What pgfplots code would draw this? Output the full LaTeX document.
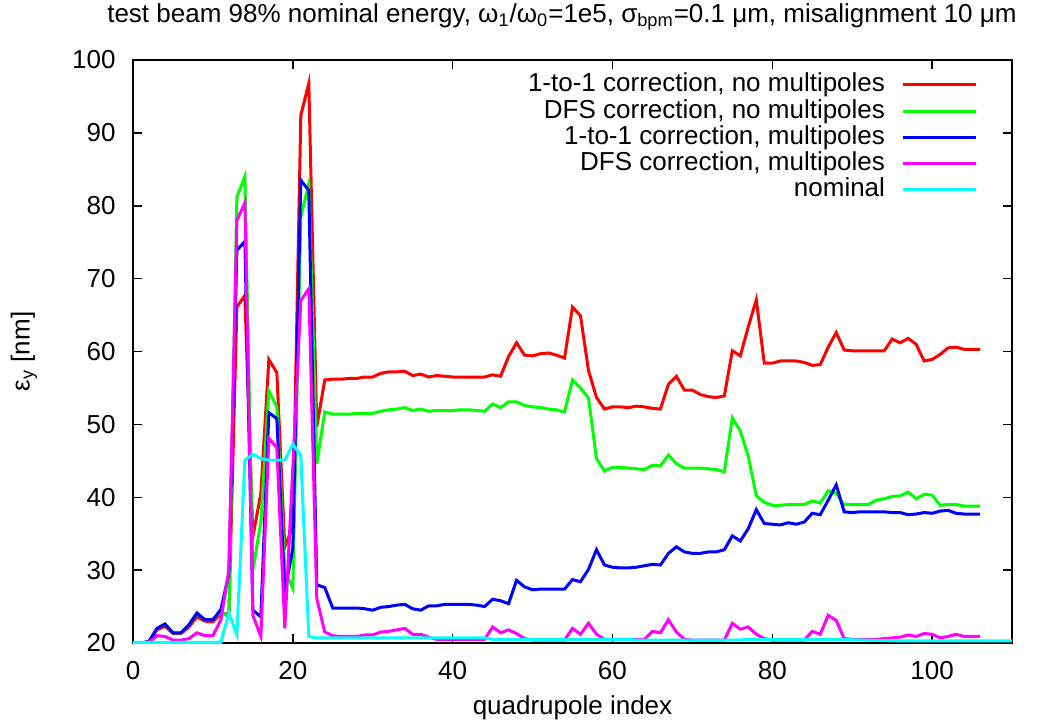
\documentclass[border=0pt]{standalone}
\usepackage{pgfplots}
\usepackage{pgfplotstable}
\pgfplotsset{compat=1.18}
\usepackage{fontspec}
\setmainfont{Liberation Sans}
\definecolor{gpred}{RGB}{255,0,0}
\definecolor{gpgreen}{RGB}{0,255,0}
\definecolor{gpblue}{RGB}{0,0,255}
\definecolor{gpmag}{RGB}{255,0,255}
\definecolor{gpcyan}{RGB}{0,255,255}

\pgfplotstableread{
i r g b m
0 20.0 20.0 20.0 20.0
1 20.0 20.0 20.0 20.0
2 20.2 20.2 20.2 20.1
3 21.8 22.0 22.0 21.0
4 22.3 22.6 22.6 20.9
5 21.3 21.4 21.4 20.4
6 21.3 21.4 21.4 20.4
7 22.2 22.5 22.5 20.6
8 23.6 24.1 24.1 21.4
9 23.0 23.2 23.2 21.0
10 22.9 23.2 23.2 21.0
11 24.0 24.3 24.6 23.2
12 24.0 23.5 29.5 30.0
13 66.1 81.2 73.9 78.0
14 67.7 84.0 75.1 80.4
15 34.6 30.0 24.5 23.8
16 40.5 36.6 23.6 20.9
17 58.9 54.6 51.6 48.1
18 57.1 52.4 50.8 46.8
19 33.2 30.0 27.0 22.0
20 36.0 27.5 33.0 44.0
21 92.4 78.5 83.5 67.0
22 96.8 83.0 82.1 68.6
23 49.7 44.6 28.0 26.1
24 56.1 51.7 27.6 21.5
25 56.2 51.4 24.8 21.0
26 56.2 51.4 24.8 20.9
27 56.3 51.4 24.8 20.9
28 56.3 51.5 24.8 20.9
29 56.5 51.5 24.7 21.1
30 56.5 51.5 24.5 21.1
31 57.0 51.8 24.9 21.5
32 57.2 52.0 25.0 21.6
33 57.2 52.1 25.2 21.8
34 57.3 52.3 25.3 22.0
35 56.7 51.9 24.7 21.2
36 56.9 52.1 24.5 21.2
37 56.5 51.8 25.1 20.8
38 56.7 51.9 25.1 20.5
39 56.6 51.9 25.3 20.5
40 56.5 51.9 25.3 20.5
41 56.5 52.0 25.3 20.5
42 56.5 52.0 25.3 20.5
43 56.5 51.9 25.2 20.5
44 56.5 51.8 25.0 20.5
45 56.8 52.8 26.0 22.2
46 56.6 52.3 25.8 21.4
47 59.3 53.1 25.4 21.8
48 61.2 53.1 28.6 21.3
49 59.5 52.6 27.7 20.6
50 59.4 52.4 27.3 20.4
51 59.7 52.3 27.4 20.4
52 59.8 52.1 27.4 20.4
53 59.5 52.0 27.4 20.4
54 59.1 51.7 27.4 20.4
55 66.1 56.1 28.7 22.0
56 64.9 55.0 28.4 21.2
57 57.4 53.6 30.1 22.7
58 53.7 45.3 32.8 21.2
59 52.1 43.6 30.7 20.5
60 52.4 44.1 30.4 20.5
61 52.4 44.1 30.3 20.5
62 52.3 44.0 30.3 20.5
63 52.5 43.9 30.4 20.5
64 52.4 43.8 30.6 20.5
65 52.2 44.4 30.8 21.6
66 52.1 44.3 30.7 21.4
67 55.5 45.8 32.3 23.2
68 56.6 44.6 33.2 21.5
69 54.7 44.0 32.5 20.5
70 54.7 44.0 32.3 20.4
71 54.1 44.0 32.3 20.4
72 53.8 43.9 32.5 20.4
73 53.7 43.8 32.5 20.4
74 53.9 43.5 32.8 20.4
75 60.1 50.9 34.7 22.7
76 59.4 49.1 34.0 21.9
77 63.4 45.6 35.7 22.2
78 67.1 40.2 38.3 21.2
79 58.4 39.3 36.4 20.6
80 58.4 38.9 36.3 20.4
81 58.7 38.9 36.2 20.4
82 58.7 39.0 36.5 20.4
83 58.7 39.0 36.3 20.4
84 58.5 39.0 36.6 20.4
85 58.1 39.5 37.8 21.6
86 58.2 39.2 37.6 21.2
87 60.6 40.9 39.6 23.8
88 62.6 40.5 41.7 23.1
89 60.2 39.0 38.0 20.6
90 60.1 39.0 37.9 20.5
91 60.1 39.0 38.0 20.5
92 60.1 39.0 38.0 20.5
93 60.1 39.6 38.0 20.5
94 60.1 39.8 38.0 20.6
95 61.7 40.1 37.9 20.7
96 61.2 40.2 37.9 20.8
97 61.8 40.7 37.6 21.1
98 61.0 39.8 37.7 20.9
99 58.7 40.4 37.9 21.3
100 58.9 40.3 37.8 21.2
101 59.6 38.9 38.1 20.7
102 60.5 39.0 38.2 20.9
103 60.6 39.0 37.8 21.2
104 60.3 38.8 37.7 20.9
105 60.3 38.8 37.7 20.9
106 60.3 38.8 37.7 20.9
}\maindata

\pgfplotstableread{
i c
0 20.1
11 20.1
12 24.1
13 21.1
14 45.1
15 45.9
16 45.3
17 45.1
18 45.1
19 45.1
20 47.3
21 45.7
22 20.9
23 20.7
44 20.7
45 20.5
62 20.5
63 20.4
75 20.4
78 20.5
88 20.5
95 20.3
110 20.3
}\cyandata

\begin{document}
\begin{tikzpicture}[font=\fontsize{13}{15.6}\selectfont]
\useasboundingbox (-66.5pt,-40pt) rectangle (453pt,321.5pt);
\begin{axis}[
  at={(0pt,0pt)}, anchor=south west,
  scale only axis, width=439.5pt, height=291.5pt,
  xmin=0, xmax=110, ymin=20, ymax=100,
  xtick={0,20,...,100}, ytick={20,30,...,100},
  minor tick num=0,
  tick align=inside, major tick length=4.5pt,
  every tick/.style={black, line width=0.75pt},
  axis line style={line width=0.75pt},
  /pgf/number format/assume math mode=true,
  ticklabel style={font=\fontsize{13}{15.6}\selectfont},
  yticklabel style={anchor=east, inner sep=0pt, xshift=-8.5pt},
  xticklabel style={anchor=north, inner sep=0pt, yshift=-9pt},
  xlabel={quadrupole index},
  ylabel={ε\textsubscript{y} [nm]},
  xlabel style={at={(axis description cs:0.5,0)}, anchor=center, yshift=-32.5pt},
  ylabel style={at={(axis description cs:-0.124,0.5)}, anchor=center},
  title={test beam 98\% nominal energy, ω\textsubscript{1}/ω\textsubscript{0}=1e5, σ\textsubscript{bpm}=0.1 μm, misalignment 10 μm},
  title style={at={(axis description cs:0.488,1)}, anchor=base, yshift=13pt},
  legend plot pos=right,
  legend cell align=right,
  legend image code/.code={\draw[#1] (0pt,0pt) -- (36.5pt,0pt);},
  legend style={draw=none, fill=none, inner sep=0pt, outer sep=0pt,
    at={(axis description cs:0.9613,0.9782)}, anchor=north east,
    column sep=8.5pt, row sep=1.15pt,
    nodes={inner sep=0pt, text height=9.5pt, text depth=2.5pt},
    font=\fontsize{13}{15.6}\selectfont},
  every axis plot/.append style={line width=1.5pt},
]
\addplot[gpred, no markers] table[x=i, y=r] {\maindata};
\addlegendentry{1-to-1 correction, no multipoles}
\addplot[gpgreen, no markers] table[x=i, y=g] {\maindata};
\addlegendentry{DFS correction, no multipoles}
\addplot[gpblue, no markers] table[x=i, y=b] {\maindata};
\addlegendentry{1-to-1 correction, multipoles}
\addplot[gpmag, no markers] table[x=i, y=m] {\maindata};
\addlegendentry{DFS correction, multipoles}
\addplot[gpcyan, no markers] table[x=i, y=c] {\cyandata};
\addlegendentry{nominal}
\end{axis}
\end{tikzpicture}
\end{document}
